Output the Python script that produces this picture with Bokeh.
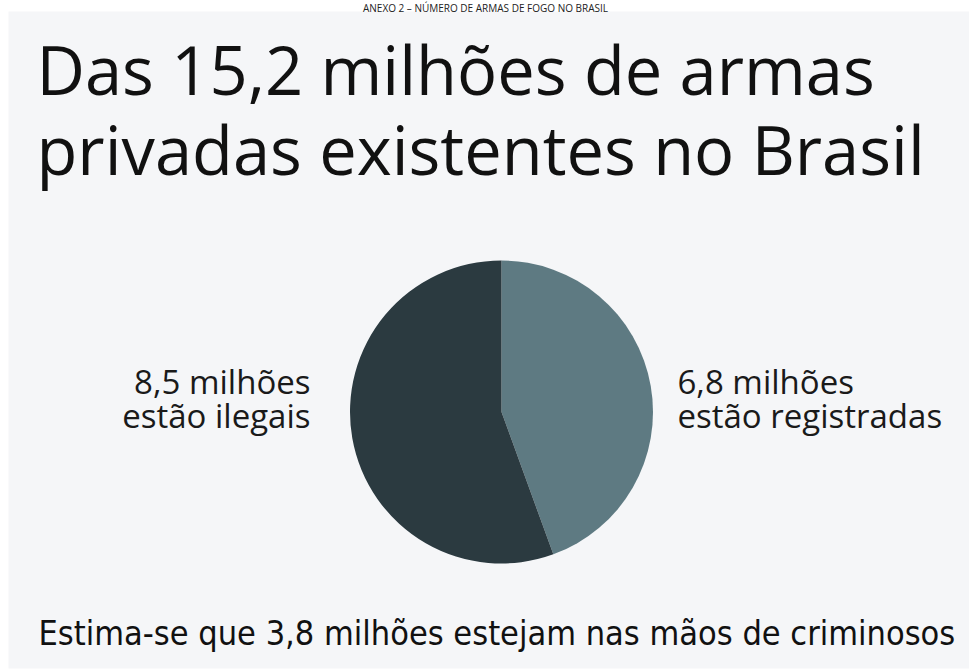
from bokeh.plotting import figure
from bokeh.models import Range1d, ColumnDataSource
from bokeh.core.properties import value
from bokeh.embed import file_html
from bokeh.resources import INLINE
import numpy as np

# Data
categories = ["estão registradas", "estão ilegais"]
values_mi = [6.8, 8.5]
colors = ["#5e7a82", "#2b3a40"]
label_lines = [["6,8 milhões", "estão registradas"], ["8,5 milhões", "estão ilegais"]]
header = "ANEXO 2 – NÚMERO DE ARMAS DE FOGO NO BRASIL"
title_lines = ["Das 15,2 milhões de armas", "privadas existentes no Brasil"]
footer = "Estima-se que 3,8 milhões estejam nas mãos de criminosos"

W, H = 969, 670
p = figure(width=W, height=H, output_backend="svg", toolbar_location=None,
           x_range=Range1d(0, W), y_range=Range1d(0, H), min_border=0,
           border_fill_color="white", background_fill_color="white", outline_line_color=None)
p.axis.visible = False
p.grid.visible = False

def Y(v):
    return H - v

# panel
p.quad(left=[8], right=[972], bottom=[Y(668)], top=[Y(11)], fill_color="#f5f6f8", line_color=None)

# header
p.text(x=[485], y=[Y(7.5)], text=[header], text_font=value("Open Sans"), text_font_size="10px",
       text_align="center", text_baseline="alphabetic", text_color="#222222")

# title
p.text(x=[36, 36], y=[Y(68.5), Y(148.5)], text=title_lines, text_font=value("Open Sans"),
       text_font_size="66.8px", text_align="left", text_baseline="alphabetic", text_color="#111111")

# pie
vals = np.array(values_mi, dtype=float)
frac = vals / vals.sum()
ends = np.pi / 2 - 2 * np.pi * np.cumsum(frac)
starts = np.concatenate([[np.pi / 2], ends[:-1]])
src = ColumnDataSource(dict(x=[501] * len(vals), y=[Y(411.5)] * len(vals),
                            start=ends, end=starts, color=colors, cat=categories))
p.wedge(x="x", y="y", radius=151.5, start_angle="start", end_angle="end",
        fill_color="color", line_color=None, source=src)

# labels
p.text(x=[677, 677], y=[Y(381), Y(414.5)], text=label_lines[0], text_font=value("Open Sans"),
       text_font_size="33px", text_align="left", text_baseline="alphabetic", text_color="#1a1a1a")
p.text(x=[310, 310], y=[Y(381), Y(414.5)], text=label_lines[1], text_font=value("Open Sans"),
       text_font_size="33px", text_align="right", text_baseline="alphabetic", text_color="#1a1a1a")

# footer
p.text(x=[38], y=[Y(632)], text=[footer], text_font=value("DejaVu Sans Condensed"),
       text_font_size="34px", text_align="left", text_baseline="alphabetic", text_color="#111111")

open("out.html", "w").write(file_html(p, INLINE))
